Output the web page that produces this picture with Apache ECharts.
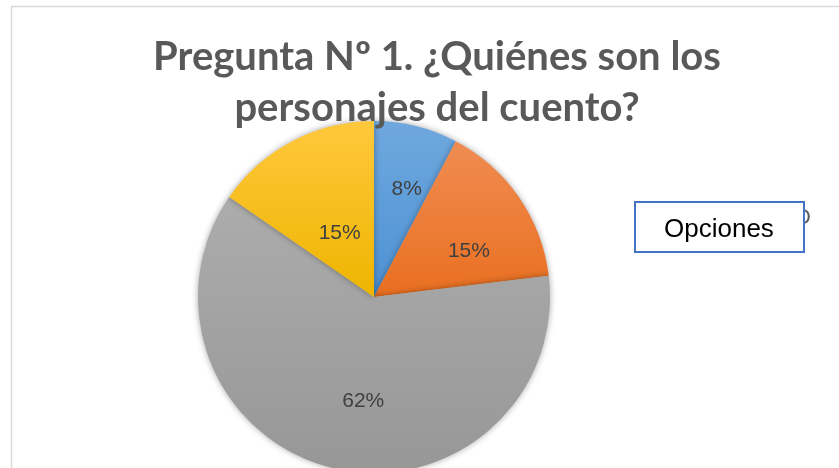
<!DOCTYPE html>
<html><head><meta charset="utf-8">
<script src="https://cdn.jsdelivr.net/npm/echarts@6/dist/echarts.min.js"></script>
<style>html,body{margin:0;padding:0;background:#fff}#c{width:839px;height:468px}</style>
</head><body><div id="c"></div>
<script>
var titleText = 'Pregunta Nº 1. ¿Quiénes son los\npersonajes del cuento?';
var categories = ['A', 'B', 'C', 'D'];
var values = [1, 2, 8, 2];
var percentLabels = ['8%', '15%', '62%', '15%'];
var colorsTop = ['#6fa8de', '#f08c52', '#acacac', '#ffc83c'];
var colorsBottom = ['#4d91d4', '#e96f20', '#979797', '#eeb500'];
var labelOffsets = [[11, -19], [20, 6], [11, 16], [8, 17]];
var legendBoxText = 'Opciones';

var chart = echarts.init(document.getElementById('c'), null, {renderer: 'canvas'});
var data = values.map(function (v, i) {
  return {
    name: categories[i], value: v,
    itemStyle: {
      color: new echarts.graphic.LinearGradient(0, 0, 0, 1, [
        {offset: 0, color: colorsTop[i]}, {offset: 1, color: colorsBottom[i]}
      ])
    },
    label: {formatter: percentLabels[i], offset: labelOffsets[i]}
  };
});
chart.setOption({
  animation: false,
  backgroundColor: '#fff',
  title: {
    text: titleText, left: 432, top: 27, textAlign: 'center',
    textStyle: {fontFamily: 'Lato', fontWeight: 'bold', fontSize: 40, color: '#595959', lineHeight: 51}
  },
  graphic: [
    {type: 'rect', shape: {x: 11.5, y: 6.5, width: 900, height: 600}, style: {fill: 'none', stroke: '#d9d9d9', lineWidth: 1.5}, z: -10},
    {type: 'text', left: 795, top: 207, style: {text: 'D', font: '22px "Liberation Sans"', fill: '#595959'}, z: 10},
    {type: 'rect', shape: {x: 635, y: 202, width: 169, height: 50}, style: {fill: '#fff', stroke: '#4472c4', lineWidth: 2}, z: 20},
    {type: 'text', left: 664, top: 217, style: {text: legendBoxText, font: '26px "Liberation Sans"', fill: '#000'}, z: 21},
    {type: 'rect', shape: {x: 640, y: 242, width: 159, height: 9}, style: {fill: '#fff'}, z: 22}
  ],
  series: [{
    type: 'pie',
    center: [374, 297],
    radius: [0, 176],
    startAngle: 90,
    clockwise: true,
    data: data,
    label: {show: true, position: 'inside', fontFamily: 'Liberation Sans', fontSize: 21, color: '#404040'},
    labelLine: {show: false},
    itemStyle: {shadowBlur: 6, shadowColor: 'rgba(0,0,0,0.35)', borderWidth: 0},
    emphasis: {disabled: true}
  }]
});
</script></body></html>
